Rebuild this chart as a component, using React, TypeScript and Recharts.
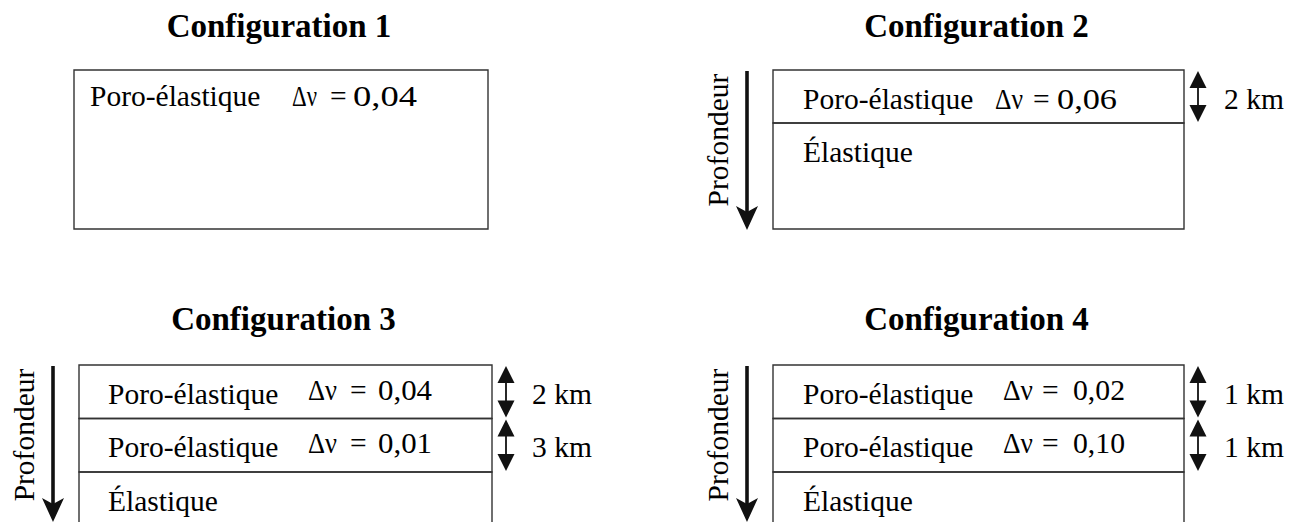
import React from 'react';
import { ComposedChart, XAxis, YAxis, ReferenceArea, ReferenceLine, ReferenceDot } from 'recharts';

// Diagram content
const configTitles = ['Configuration 1', 'Configuration 2', 'Configuration 3', 'Configuration 4'];
const layerNames = [
  ['Poro-élastique'],
  ['Poro-élastique', 'Élastique'],
  ['Poro-élastique', 'Poro-élastique', 'Élastique'],
  ['Poro-élastique', 'Poro-élastique', 'Élastique'],
];
const deltaNu = [['0,04'], ['0,06', null], ['0,04', '0,01', null], ['0,02', '0,10', null]];
const thicknesses = [[null], ['2 km', null], ['2 km', '3 km', null], ['1 km', '1 km', null]];
const depthLabel = 'Profondeur';
const hasDepthArrow = [false, true, true, true];

// Layout: the chart coordinate system is in page pixels
const W = 1303;
const H = 522;
const FONT = 'Liberation Serif, DejaVu Serif, serif';
const panels = [
  { left: 74, right: 488, top: 70, bottom: 229, rowH: 159, titleY: 37, textDx: 16, textDy: 36, nuDx: 218, nuW: 25, eqDx: 256, numDx: 279, numW: 64, eqDy: 0 },
  { left: 773, right: 1184, top: 70, bottom: 229, rowH: 53, titleY: 37, textDx: 30, textDy: 39, nuDx: 222, nuW: 28, eqDx: 260, numDx: 284, numW: 60, eqDy: 0 },
  { left: 79, right: 492, top: 365, bottom: 560, rowH: 53.5, titleY: 330, textDx: 29, textDy: 38.5, nuDx: 229, nuW: 29, eqDx: 271, numDx: 299, numW: 54, eqDy: -4 },
  { left: 773, right: 1184, top: 365, bottom: 560, rowH: 53.5, titleY: 330, textDx: 30, textDy: 38.5, nuDx: 230, nuW: 30, eqDx: 269, numDx: 300, numW: 52, eqDy: -4 },
];

const INK = '#111';

function textMark(key: string, x: number, y: number, text: string, opts: any = {}) {
  const { rotate, fontSize = 29.5, fontWeight = 'normal', ...rest } = opts;
  return (
    <ReferenceDot
      key={key}
      x={x}
      y={y}
      r={0}
      ifOverflow="visible"
      shape={(p: any) => (
        <text
          x={p.cx}
          y={p.cy}
          fill="#000"
          style={{ fontFamily: FONT, fontSize, fontWeight }}
          transform={rotate ? `rotate(${rotate} ${p.cx} ${p.cy})` : undefined}
          {...rest}
        >
          {text}
        </text>
      )}
    />
  );
}

const doubleArrow = (p: any) => {
  const { x1, y1, x2, y2 } = p;
  const hl = 17;
  const hw = 8.5;
  return (
    <g>
      <line x1={x1} y1={y1 + 4} x2={x2} y2={y2 - 4} stroke={INK} strokeWidth={1.8} />
      <polygon points={`${x1},${y1} ${x1 - hw},${y1 + hl} ${x1 + hw},${y1 + hl}`} fill={INK} />
      <polygon points={`${x2},${y2} ${x2 - hw},${y2 - hl} ${x2 + hw},${y2 - hl}`} fill={INK} />
    </g>
  );
};

const depthArrow = (p: any) => {
  const { x1, y1, x2, y2 } = p;
  return (
    <g>
      <line x1={x1} y1={y1} x2={x2} y2={y2 - 15} stroke={INK} strokeWidth={3.6} />
      <polygon points={`${x2},${y2} ${x2 - 11},${y2 - 24} ${x2},${y2 - 18} ${x2 + 11},${y2 - 24}`} fill={INK} />
    </g>
  );
};

export default function App() {
  const marks: React.ReactNode[] = [];

  configTitles.forEach((title, c) => {
    const pn = panels[c];
    const names = layerNames[c];

    marks.push(
      textMark(`title-${c}`, (pn.left + pn.right) / 2 - 2, pn.titleY, title, {
        fontSize: 33,
        fontWeight: 'bold',
        textAnchor: 'middle',
      })
    );

    names.forEach((name, i) => {
      const rowTop = pn.top + i * pn.rowH;
      const rowBottom = i === names.length - 1 ? pn.bottom : pn.top + (i + 1) * pn.rowH;
      const base = rowTop + pn.textDy;

      marks.push(
        <ReferenceArea
          key={`layer-${c}-${i}`}
          x1={pn.left}
          x2={pn.right}
          y1={rowTop}
          y2={rowBottom}
          ifOverflow="visible"
          fill="none"
          fillOpacity={0}
          stroke="#333"
          strokeWidth={1.4}
        />
      );
      marks.push(textMark(`name-${c}-${i}`, pn.left + pn.textDx, base, name));

      const dn = deltaNu[c][i];
      if (dn) {
        const stretch = { lengthAdjust: 'spacingAndGlyphs' };
        marks.push(textMark(`nu-${c}-${i}`, pn.left + pn.nuDx, base + pn.eqDy, 'Δν', { ...stretch, textLength: pn.nuW }));
        marks.push(textMark(`eq-${c}-${i}`, pn.left + pn.eqDx, base + pn.eqDy, '='));
        marks.push(textMark(`num-${c}-${i}`, pn.left + pn.numDx, base + pn.eqDy, dn, { ...stretch, textLength: pn.numW }));
      }

      const th = thicknesses[c][i];
      if (th) {
        const ax = pn.right + 14;
        marks.push(
          <ReferenceLine
            key={`thick-${c}-${i}`}
            segment={[{ x: ax, y: rowTop + 1 }, { x: ax, y: rowBottom - 1 }]}
            ifOverflow="visible"
            shape={doubleArrow}
          />
        );
        marks.push(textMark(`km-${c}-${i}`, ax + 26, base, th));
      }
    });

    if (hasDepthArrow[c]) {
      const ax = pn.left - 26;
      const y2 = Math.min(pn.bottom + 1, H);
      marks.push(
        <ReferenceLine
          key={`depth-${c}`}
          segment={[{ x: ax, y: pn.top + 1 }, { x: ax, y: y2 }]}
          ifOverflow="visible"
          shape={depthArrow}
        />
      );
      marks.push(
        textMark(`depth-label-${c}`, ax - 19, pn.top + 70, depthLabel, {
          rotate: -90,
          textAnchor: 'middle',
        })
      );
    }
  });

  return (
    <div style={{ width: W, height: H, background: '#fff' }}>
      <style>{'body{margin:0}'}</style>
      <ComposedChart width={W} height={H} data={[]} margin={{ top: 0, right: 0, bottom: 0, left: 0 }}>
        <XAxis type="number" dataKey="x" domain={[0, W]} allowDataOverflow hide />
        <YAxis type="number" dataKey="y" domain={[0, H]} allowDataOverflow reversed hide />
        {marks}
      </ComposedChart>
    </div>
  );
}
